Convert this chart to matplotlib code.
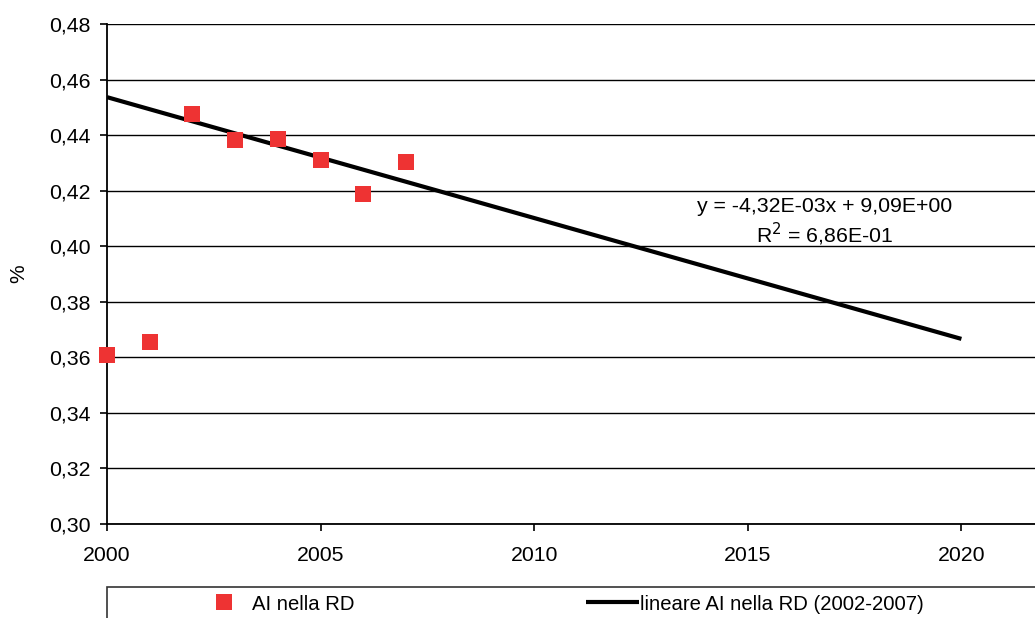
import numpy as np
import matplotlib
matplotlib.use('Agg')
import matplotlib.pyplot as plt
from matplotlib.patches import Rectangle
from matplotlib.ticker import FuncFormatter

plt.rcParams['font.family'] = ['Liberation Sans', 'DejaVu Sans']

years = [2000, 2001, 2002, 2003, 2004, 2005, 2006, 2007]
ai_rd = [0.361, 0.3655, 0.4476, 0.4382, 0.4386, 0.4310, 0.4188, 0.4303]
fit_years = [2002, 2003, 2004, 2005, 2006, 2007]
trend_range = [2000, 2020]
eq_text = 'y = -4,32E-03x + 9,09E+00\nR$^2$ = 6,86E-01'

# linear trend over 2002-2007
fy = np.array(fit_years)
fv = np.array([ai_rd[years.index(y)] for y in fit_years])
slope, intercept = np.polyfit(fy, fv, 1)
tx = np.array(trend_range)
ty = slope * tx + intercept

W, H = 1035, 618
fig = plt.figure(figsize=(W / 100, H / 100), dpi=100)
ax = fig.add_axes([107 / W, 1 - 524 / H, 1 - 107 / W, 500 / H])

ax.set_xlim(2000, 2000 + (W - 107) / 42.72)
ax.set_ylim(0.30, 0.48)
ax.set_yticks(np.arange(0.30, 0.481, 0.02))
ax.set_xticks([2000, 2005, 2010, 2015, 2020])
ax.yaxis.set_major_formatter(FuncFormatter(lambda v, p: f'{v:.2f}'.replace('.', ',')))
ax.grid(axis='y', color='black', lw=1.0)
ax.set_axisbelow(True)
for side in ['top', 'right']:
    ax.spines[side].set_visible(False)
for side in ['left', 'bottom']:
    ax.spines[side].set_linewidth(1.3)
    ax.spines[side].set_color('black')
ax.tick_params(axis='both', direction='out', length=5, width=1.2, labelsize=15.3, color='black')
ax.tick_params(axis='y', pad=7)
ax.tick_params(axis='x', pad=11)

ax.plot(tx, ty, color='black', lw=3, solid_capstyle='butt', zorder=3,
        label='lineare AI nella RD (2002-2007)')
ax.plot(years, ai_rd, ls='none', marker='s', ms=11.5, color='#ee3333',
        markeredgewidth=0, clip_on=False, zorder=4, label='AI nella RD')

ax.text(2016.8, 0.4085, eq_text, ha='center', va='center', fontsize=15.3, linespacing=1.2)

ax.set_ylabel('%', fontsize=15)
ax.yaxis.set_label_coords(-0.085, 0.5)

# legend box below the plot
fig.patches.append(Rectangle((107 / W, -0.1), 1.0, 0.1 + 1 - 587 / H, transform=fig.transFigure,
                             fill=False, edgecolor='#333333', lw=1.2))
h, l = ax.get_legend_handles_labels()
fig.legend([h[1], h[0]], [l[1], l[0]], loc='center left', bbox_to_anchor=(198 / W, 1 - 604 / H),
           ncol=2, frameon=False, fontsize=14.6, handlelength=2.6, handletextpad=0.05,
           columnspacing=11.45, markerscale=1.0, borderpad=0, borderaxespad=0)

fig.savefig('out.png', dpi=100)
